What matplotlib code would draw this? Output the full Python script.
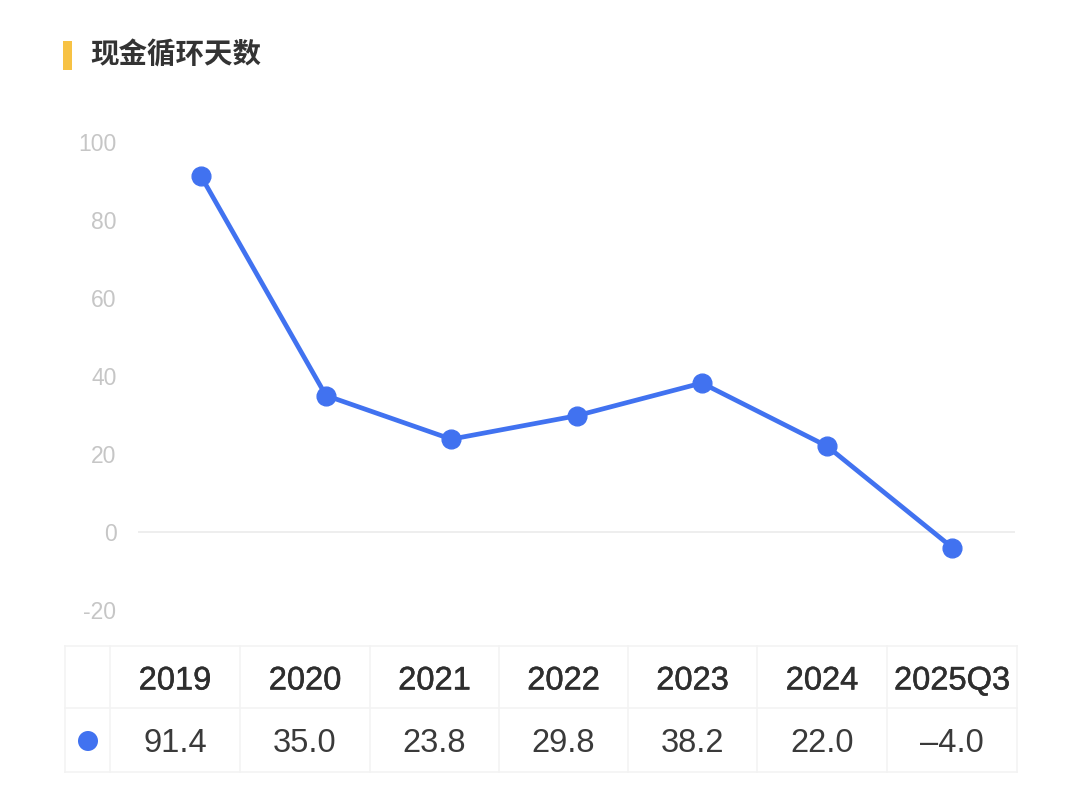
import matplotlib
matplotlib.use('Agg')
import matplotlib.pyplot as plt
import matplotlib.patheffects as pe
from matplotlib.patches import Rectangle, Circle

plt.rcParams['font.family'] = ['Liberation Sans', 'Noto Sans CJK SC', 'DejaVu Sans']
plt.rcParams['axes.unicode_minus'] = False

# data
title = '现金循环天数'
periods = ['2019', '2020', '2021', '2022', '2023', '2024', '2025Q3']
days = [91.4, 35.0, 23.8, 29.8, 38.2, 22.0, -4.0]
yticks = [-20, 0, 20, 40, 60, 80, 100]

blue = '#4172f0'
W, H = 1080, 794

fig = plt.figure(figsize=(10.8, 7.94), dpi=100)

# line chart
ax = fig.add_axes([138 / W, 1 - 610 / H, (1015 - 138) / W, (610 - 142) / H])
x = list(range(len(periods)))
ax.plot(x, days, color=blue, lw=3.4, marker='o', ms=13.5, clip_on=False, zorder=3)
ax.axhline(0, color='#ebebeb', lw=1.2, zorder=1)
ax.set_xlim(-0.5, len(periods) - 0.5)
ax.set_ylim(-20, 100)
ax.set_yticks(yticks)
ax.set_yticklabels([str(v) for v in yticks], color='#c6c6c6', fontsize=16.5)
ax.tick_params(axis='y', length=0, pad=15.5)
ax.set_xticks([])
for s in ax.spines.values():
    s.set_visible(False)

# overlay for title and table, in pixel coords
ov = fig.add_axes([0, 0, 1, 1], zorder=-1)
ov.set_xlim(0, W)
ov.set_ylim(H, 0)
ov.axis('off')

ov.add_patch(Rectangle((63, 41), 9, 29, color='#f7c244', lw=0))
ov.text(90, 56, title, fontsize=20.5, color='#333333', va='center', ha='left',
        family=['Noto Sans CJK SC'], fontweight='bold')

# table
col_edges = [65, 110, 240, 370, 499, 628, 757, 887, 1017]
row_edges = [646, 708, 772]
grid = '#f3f3f3'
for xe in col_edges:
    ov.plot([xe, xe], [row_edges[0], row_edges[-1]], color=grid, lw=1.2)
for ye in row_edges:
    ov.plot([col_edges[0], col_edges[-1]], [ye, ye], color=grid, lw=1.2)

hy = (row_edges[0] + row_edges[1]) / 2 + 4
vy = (row_edges[1] + row_edges[2]) / 2 + 4
semi = [pe.withStroke(linewidth=0.35, foreground='#2e2e2e')]
for i, (p, v) in enumerate(zip(periods, days)):
    cx = (col_edges[i + 1] + col_edges[i + 2]) / 2
    ov.text(cx, hy, p, fontsize=23.5, color='#2e2e2e', ha='center', va='center',
            path_effects=semi)
    label = f'{v:.1f}'.replace('-', '–')
    ov.text(cx, vy, label, fontsize=23.5, color='#3a3a3a', ha='center', va='center')

ov.add_patch(Circle((88, 741), 10, color=blue, lw=0))

fig.savefig('out.png', dpi=100, facecolor='white')
